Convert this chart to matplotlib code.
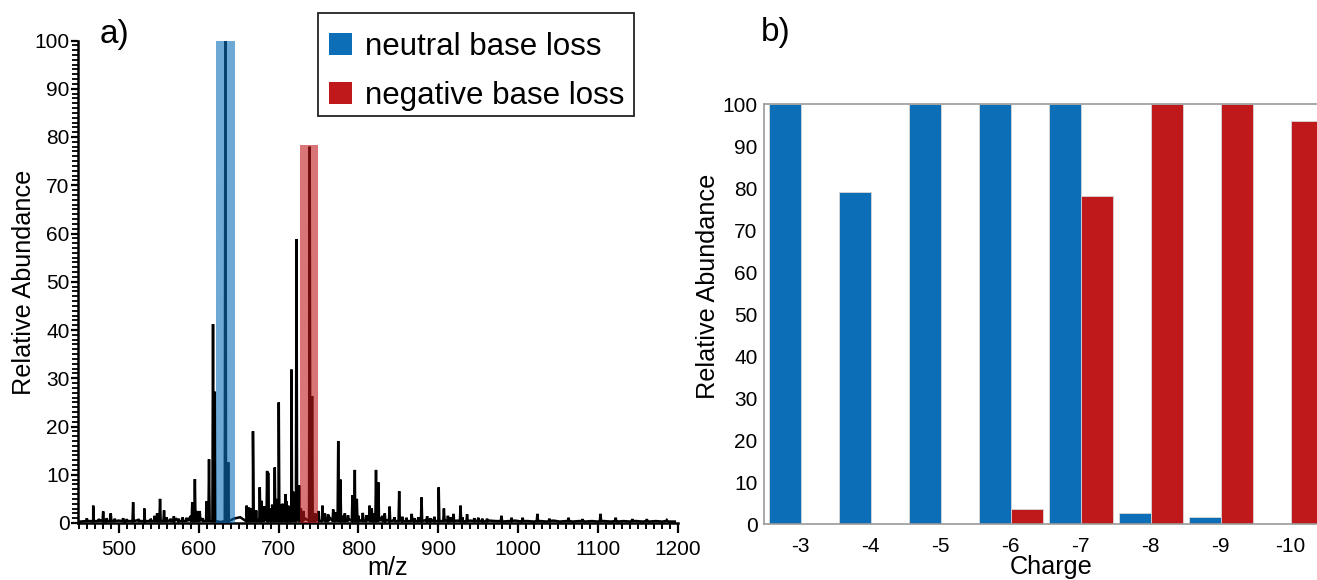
import matplotlib
matplotlib.use("Agg")
import matplotlib.pyplot as plt
from matplotlib.patches import Patch, Rectangle
from matplotlib.ticker import MultipleLocator, FixedLocator

plt.rcParams['font.family'] = ['Liberation Sans', 'DejaVu Sans']

# ---------------- data: panel a) mass spectrum ----------------
peak_mz = [460, 468, 480.5, 490, 505.5, 518, 532, 548, 551.7, 556.7, 569,
           592, 595.3, 601.4, 613, 618, 620.2, 633.5, 637,
           660, 663, 668, 676.5, 678.7, 685.7, 687, 695.3, 697.4, 700.3,
           703.6, 708.6, 712, 716.2, 718.3, 722.5, 725.8, 739, 742,
           755, 768.4, 774.7, 777.5, 787, 792.5, 795.5, 798,
           805.5, 814, 816.7, 822, 825, 839, 851, 866.7, 879, 886,
           900.5, 907, 919, 927.8, 936, 950, 961, 979, 991.7, 1005.5,
           1024, 1039, 1063, 1080.5, 1103, 1122, 1142.8, 1161, 1186]
peak_int = [1.0, 3.6, 2.4, 2.0, 1.0, 4.3, 3.0, 2.0, 5.0, 2.6, 1.4,
            4.3, 9.1, 2.5, 13.2, 41.2, 27.2, 100, 12.6,
            3.6, 3.2, 19.0, 7.4, 4.6, 10.8, 10.4, 11.5, 5.0, 25.0,
            3.8, 6.0, 3.6, 31.8, 6.5, 58.8, 7.8, 78.0, 26.3,
            3.6, 2.8, 17.0, 9.0, 1.6, 5.8, 11.0, 5.0,
            2.1, 3.6, 3.0, 11.0, 8.4, 3.4, 6.6, 1.9, 5.3, 1.4,
            7.4, 3.0, 1.9, 3.6, 1.8, 1.1, 0.9, 1.5, 1.1, 1.1,
            1.9, 0.9, 1.1, 0.8, 1.9, 1.1, 0.8, 0.8, 0.6]

minor_mz = [475, 485, 495, 510, 525, 540, 545, 560, 565, 575, 580, 585, 590,
            598, 605, 610, 666, 672, 682, 690, 692, 705, 710, 714, 720, 728,
            731, 746, 750, 758, 762, 771, 780, 783, 800, 810, 820, 830, 833,
            845, 855, 860, 870, 875, 890, 895, 912, 915, 930, 945, 955]
minor_int = [0.8, 1.0, 0.9, 0.8, 0.8, 0.9, 1.5, 1.2, 0.9, 0.9, 1.2, 1.1, 1.5,
             2.5, 1.0, 4.5, 3.0, 2.6, 3.5, 3.0, 3.8, 4.0, 4.5, 3.5, 4.0, 3.0,
             2.5, 2.0, 2.5, 2.0, 1.8, 2.2, 1.5, 2.0, 1.5, 1.6, 2.0, 1.5, 2.0,
             1.2, 1.3, 1.1, 1.0, 1.2, 1.0, 1.3, 1.5, 1.2, 1.2, 1.0, 0.9]

noise_mz = list(range(452, 1200, 8))
noise_int = [0.3, 0.5, 0.2, 0.6, 0.3, 0.4, 0.5, 0.2, 0.4, 0.6, 0.3, 0.5,
             0.4, 0.7, 0.5, 0.8, 0.6, 0.9, 0.7, 1.0, 0.6, 0.3, 0.2, 0.3,
             0.9, 1.2, 1.0, 1.4, 1.1, 1.3, 1.5, 1.2, 1.0, 1.3, 0.9, 1.1,
             0.8, 1.0, 0.9, 1.1, 0.7, 0.9, 0.8, 1.0, 0.6, 0.8, 0.7, 0.9,
             0.6, 0.5, 0.7, 0.5, 0.6, 0.4, 0.6, 0.5, 0.4, 0.6, 0.4, 0.5,
             0.3, 0.5, 0.4, 0.3, 0.5, 0.4, 0.3, 0.4, 0.5, 0.3, 0.4, 0.3,
             0.4, 0.3, 0.5, 0.3, 0.4, 0.3, 0.4, 0.3, 0.4, 0.3, 0.4, 0.3,
             0.3, 0.4, 0.3, 0.4, 0.3, 0.3, 0.4, 0.3, 0.3, 0.3]
noise_int = noise_int[:len(noise_mz)]

# highlighted regions (start m/z, end m/z, height)
blue_region = (622.2, 645.6, 100)
red_region = (726.7, 750.0, 78.3)

# ---------------- data: panel b) bar chart ----------------
charges = ['-3', '-4', '-5', '-6', '-7', '-8', '-9', '-10']
neutral_loss = [100, 79, 100, 100, 100, 2.6, 1.7, 0]
negative_loss = [0, 0, 0, 3.5, 78, 100, 100, 96]

legend_labels = ['neutral base loss', 'negative base loss']

BLUE = '#0d6eb8'
RED = '#c0191b'

W, H = 1317, 580
fig = plt.figure(figsize=(W / 100, H / 100), dpi=100)


def fx(px):
    return px / W


def fy(py):
    return 1 - py / H


# ---------------- panel a ----------------
axL = fig.add_axes([fx(78), fy(523), (678 - 78) / W, (523 - 40.5) / H])

pts = list(zip(noise_mz, noise_int))
for m, h in zip(list(peak_mz) + list(minor_mz), list(peak_int) + list(minor_int)):
    pts += [(m - 0.8, 0.4), (m, h), (m + 0.8, 0.4)]
pts.sort()
axL.plot([p[0] for p in pts], [p[1] for p in pts], color='black', lw=1.8,
         solid_joinstyle='miter', zorder=2)

for (a, b, h), c in [(blue_region, BLUE), (red_region, RED)]:
    axL.bar((a + b) / 2, h, width=b - a, color=c, alpha=0.6, lw=0, zorder=3)

axL.set_xlim(449, 1200)
axL.set_ylim(0, 100)
for s in ['top', 'right']:
    axL.spines[s].set_visible(False)
for s in ['left', 'bottom']:
    axL.spines[s].set_linewidth(1.8)
axL.xaxis.set_major_locator(FixedLocator([500, 600, 700, 800, 900, 1000, 1100, 1200]))
axL.xaxis.set_minor_locator(MultipleLocator(10))
axL.yaxis.set_major_locator(MultipleLocator(10))
axL.yaxis.set_minor_locator(MultipleLocator(1))
axL.tick_params(axis='x', which='major', direction='out', length=7, width=1.6,
                labelsize=15, pad=5.5)
axL.tick_params(axis='x', which='minor', direction='out', length=4, width=1.4)
axL.tick_params(axis='y', which='major', direction='out', length=5, width=1.6,
                labelsize=15, pad=1)
axL.tick_params(axis='y', which='minor', direction='out', length=4, width=1.3)

fig.text(fx(24.5), fy(282), 'Relative Abundance', rotation=90, ha='center',
         va='center', fontsize=18.2)
fig.text(fx(388), fy(575), 'm/z', ha='center', va='baseline', fontsize=18.2)
fig.text(fx(100), fy(35), 'a)', ha='left', va='center', fontsize=24)

# legend: frame drawn separately to match the reference's padding
fig.patches.append(Rectangle((fx(317.5), fy(115.5)), (634 - 317.5) / W,
                             (115.5 - 12.8) / H, transform=fig.transFigure,
                             facecolor='white', edgecolor='#222222', lw=1.3,
                             zorder=5))
handles = [Patch(facecolor=BLUE, edgecolor='none'),
           Patch(facecolor=RED, edgecolor='none')]
leg = fig.legend(handles, legend_labels, loc='upper left',
                 bbox_to_anchor=(fx(318), fy(21)), bbox_transform=fig.transFigure,
                 fontsize=22.5, frameon=False, borderaxespad=0,
                 handlelength=0.75, handleheight=0.7, handletextpad=0.4,
                 labelspacing=0.6, borderpad=0.35)
leg.set_zorder(6)

# ---------------- panel b ----------------
xl0, xl1 = -0.517, 7.6
axR = fig.add_axes([fx(764.5), fy(524), (xl1 - xl0) * 70 / W, (524 - 104) / H])
idx = list(range(len(charges)))
bw = 0.457
axR.bar([i - bw / 2 for i in idx], neutral_loss, width=bw, color=BLUE,
        edgecolor='#d8d8d8', linewidth=0.6, zorder=2)
axR.bar([i + bw / 2 for i in idx], negative_loss, width=bw, color=RED,
        edgecolor='#d8d8d8', linewidth=0.6, zorder=2)
axR.set_xlim(xl0, xl1)
axR.set_ylim(0, 100)
axR.set_xticks(idx)
axR.set_xticklabels(charges)
axR.set_yticks(range(0, 101, 10))
axR.tick_params(axis='both', length=0, labelsize=15)
axR.tick_params(axis='x', pad=9)
axR.tick_params(axis='y', pad=5)
for s in ['top', 'left', 'bottom', 'right']:
    axR.spines[s].set_color('#9a9a9a')
    axR.spines[s].set_linewidth(1.2)

fig.text(fx(708), fy(286), 'Relative Abundance', rotation=90, ha='center',
         va='center', fontsize=18.2)
fig.text(fx(1050.7), fy(574), 'Charge', ha='center', va='baseline', fontsize=18.2)
fig.text(fx(761), fy(33), 'b)', ha='left', va='center', fontsize=24)

fig.savefig('out.png', dpi=100)
